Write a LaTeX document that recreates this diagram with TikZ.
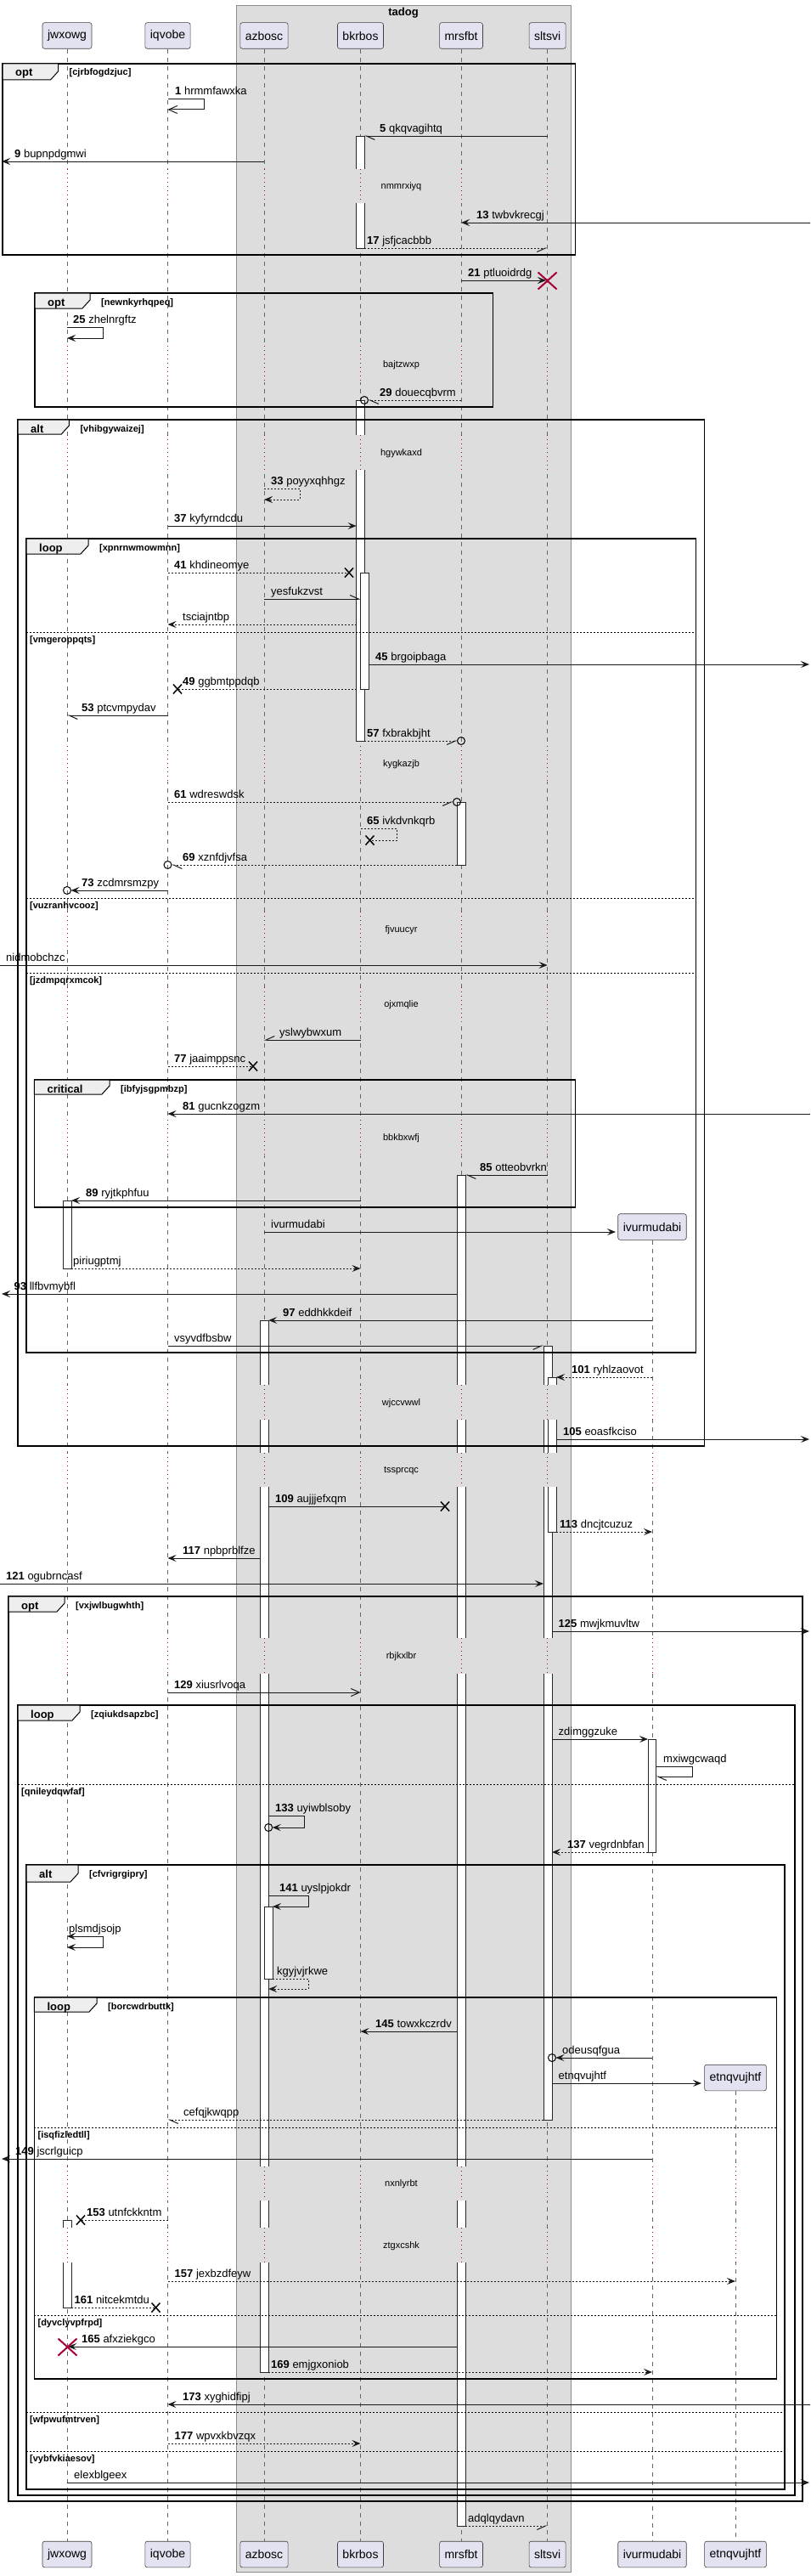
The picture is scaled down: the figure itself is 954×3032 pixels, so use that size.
\documentclass[tikz,border=0pt]{standalone}
\usepackage{fontspec}
\setmainfont{Liberation Sans}
\usetikzlibrary{arrows.meta}
\definecolor{partfill}{HTML}{E2E2F0}
\definecolor{boxgray}{HTML}{DDDDDD}
\definecolor{tabfill}{HTML}{EEEEEE}
\definecolor{killred}{HTML}{A80036}

\newcommand{\msgfont}{\fontsize{13}{15}\selectfont}
% message: [style]{from x}{to x}{y}{label x}{number}{text}
\newcommand{\msg}[7][]{%
  \draw[msgline,#1] (#2,#4) -- (#3,#4);
  \node[msglabel] (lbl-#7) at (#5,#4-5) {\if\relax\detokenize{#6}\relax\else\textbf{#6}\ \fi#7};}
% self message: [style]{x}{loop x}{y1}{y2}{end x}{label x}{number}{text}
\newcommand{\selfmsg}[9][]{%
  \draw[msgline,#1] (#2,#4) -- (#3,#4) -- (#3,#5) -- (#6,#5);
  \node[msglabel] (lbl-#9) at (#7,#4-5) {\if\relax\detokenize{#8}\relax\else\textbf{#8}\ \fi#9};}
\newcommand{\xmark}[2]{\draw[line width=1.5pt] (#1-5,#2-5.5) -- (#1+5,#2+5.5) (#1-5,#2+5.5) -- (#1+5,#2-5.5);}
\newcommand{\killmark}[2]{\draw[killred,line width=2pt] (#1-11,#2-10) -- (#1+11,#2+10) (#1-11,#2+10) -- (#1+11,#2-10);}
\newcommand{\tipcirc}[2]{\draw[line width=1pt] (#1,#2) circle (4.5);}
\newcommand{\actbar}[4]{\filldraw[actbar] (#1,#3) rectangle (#2,#4);}
% delay: {y1}{y2}{text}{lifelines}
\newcommand{\delay}[4]{%
  \foreach \lx/\lc in #4 {
    \fill[\lc] (\lx-12,#1) rectangle (\lx+12,#2);
    \draw[delayline] (\lx,#1) -- (\lx,#2);
  }
  \node[delaytext] (d-#3) at (472.5,#1/2+#2/2+1) {#3};}
% group: {x1}{x2}{y1}{y2}{tab right}{tab bottom}{kind}{guard}
\newcommand{\grp}[8]{%
  \draw[grpline] (#1,#3) rectangle (#2,#4);
  \filldraw[tabshape] (#1,#3) -- (#5,#3) -- (#5,#6-10) -- (#5-9,#6) -- (#1,#6) -- cycle;
  \node[grpkind] (k-#8) at (#1+15,#3+15) {#7};
  \node[grpguard] (g-#8) at (#5+13,#3+14) {[#8]};}
\newcommand{\grpelse}[4]{%
  \draw[elseline] (#1,#3) -- (#2,#3);
  \node[grpguard] (e-#4) at (#1+4,#3+12) {[#4]};}

\def\llA{79/white,197.5/white,311/boxgray,424.5/boxgray,543/boxgray,644.6/boxgray}
\def\llB{79/white,197.5/white,311/boxgray,424.5/boxgray,543/boxgray,644.6/boxgray,768/white}
\def\llC{79/white,197.5/white,311/boxgray,424.5/boxgray,543/boxgray,644.6/boxgray,768/white,866/white}

\begin{document}
\begin{tikzpicture}[x=1pt, y=-1pt,
    part/.style={rectangle, rounded corners=2.5pt, draw=black!75, line width=0.6pt, fill=partfill,
      minimum height=30.6pt, inner xsep=6pt, font=\fontsize{14}{16}\selectfont},
    lifeline/.style={black!60, line width=0.6pt, dash pattern=on 5pt off 5pt},
    delayline/.style={killred, line width=0.8pt, dash pattern=on 1pt off 4pt},
    delaytext/.style={font=\fontsize{11}{13}\selectfont, inner sep=0pt},
    actbar/.style={fill=white, draw=black!85, line width=0.8pt},
    msgline/.style={black!90, line width=1pt},
    dashmsg/.style={dash pattern=on 2pt off 2pt},
    msglabel/.style={anchor=base west, inner sep=0pt, font=\msgfont},
    fullhead/.style={-{Stealth[length=10pt,width=8pt,inset=4pt]}},
    openhead/.style={-{Straight Barb[length=10pt,width=9pt]}},
    halfleft/.style={-{Straight Barb[length=10pt,width=9pt,left]}},
    halfright/.style={-{Straight Barb[length=10pt,width=9pt,right]}},
    bothhead/.style={{Stealth[length=10pt,width=8pt,inset=4pt]}-{Stealth[length=10pt,width=8pt,inset=4pt]}},
    grpline/.style={draw=black, line width=1.5pt},
    tabshape/.style={fill=tabfill, draw=black, line width=1pt},
    grpkind/.style={anchor=base west, inner sep=0pt, font=\fontsize{13}{15}\selectfont\bfseries},
    grpguard/.style={anchor=base west, inner sep=0pt, font=\fontsize{11}{13}\selectfont\bfseries},
    elseline/.style={black, line width=1pt, dash pattern=on 2pt off 2pt}
]
\useasboundingbox (0,0) rectangle (954,3032);
\fill[white] (0,0) rectangle (954,3032);

% box
\filldraw[fill=boxgray, draw=black!45, line width=0.6pt] (278,6) rectangle (672,3027);
\node[font=\fontsize{13}{15}\selectfont\bfseries] (tadog) at (475,15.5) {tadog};

% participants
\foreach \n/\x in {jwxowg/79, iqvobe/197.5, azbosc/311, bkrbos/424.5, mrsfbt/543, sltsvi/644.6} {
  \node[part] (\n) at (\x,42) {\n};
  \node[part] (\n-b) at (\x,3006.5) {\n};
  \draw[lifeline] (\n) -- (\n-b);
}
\node[part] (ivurmudabi) at (768,1444) {ivurmudabi};
\node[part] (ivurmudabi-b) at (768,3006.5) {ivurmudabi};
\draw[lifeline] (ivurmudabi) -- (ivurmudabi-b);
\node[part] (etnqvujhtf) at (866,2445.5) {etnqvujhtf};
\node[part] (etnqvujhtf-b) at (866,3006.5) {etnqvujhtf};
\draw[lifeline] (etnqvujhtf) -- (etnqvujhtf-b);

% activations
\actbar{419.6}{429}{160}{292}
\actbar{419.6}{429}{471}{872}
\actbar{424.5}{434}{674}{811}
\actbar{538}{548}{944}{1018}
\actbar{538}{548}{1383}{2973}
\actbar{74}{84}{1413}{1493}
\actbar{306.4}{316.2}{1554}{2792}
\actbar{640}{650}{1584}{2495}
\actbar{645}{655}{1621}{1803}
\actbar{763}{772.5}{2047}{2180}
\actbar{311}{321}{2244}{2329}
\actbar{74}{84}{2613}{2716}

% delays
\delay{199}{239}{nmmrxiyq}{\llA}
\delay{407}{450}{bajtzwxp}{\llA}
\delay{512}{553}{hgywkaxd}{\llA}
\delay{878}{920}{kygkazjb}{\llA}
\delay{1073}{1115}{fjvuucyr}{\llA}
\delay{1162}{1202}{ojxmqlie}{\llA}
\delay{1318}{1360}{bbkbxwfj}{\llA}
\delay{1630}{1671}{wjccvwwl}{\llB}
\delay{1710}{1750}{tssprcqc}{\llB}
\delay{1928}{1970}{rbjkxlbr}{\llB}
\delay{2550}{2590}{nxnlyrbt}{\llC}
\delay{2622}{2663}{ztgxcshk}{\llC}

% groups
\grp{3}{677.7}{75}{300}{68.5}{94}{opt}{cjrbfogdzjuc}
\grp{41}{580.4}{345}{479}{106}{363}{opt}{newnkyrhqpeq}
\grp{21}{829.4}{494}{1702}{81.3}{511}{alt}{vhibgywaizej}
\grp{31}{819.6}{634}{1592}{104}{652}{loop}{xpnrnwmowmnn}
\grpelse{31}{819.6}{744}{vmgeroppqts}
\grpelse{31}{819.6}{1057}{vuzranhvcooz}
\grpelse{31}{819.6}{1145}{jzdmpqrxmcok}
\grp{40.4}{677.7}{1271}{1421}{129}{1288}{critical}{ibfyjsgpmbzp}
\grp{10}{945}{1879}{2944}{76}{1897}{opt}{vxjwlbugwhth}
\grp{21}{935.8}{2007}{2937}{94}{2025}{loop}{zqiukdsapzbc}
\grpelse{21}{935.8}{2100}{qnileydqwfaf}
\grp{31}{924}{2195}{2930}{92}{2215}{alt}{cfvrigrgipry}
\grpelse{31}{924}{2839}{wfpwufmtrven}
\grpelse{31}{924}{2885}{vybfvkiaesov}
\grp{40.4}{914.4}{2351}{2800}{114}{2368}{loop}{borcwdrbuttk}
\grpelse{40.4}{914.4}{2504}{isqfizledtll}
\grpelse{40.4}{914.4}{2725}{dyvclyvpfrpd}

% messages
\selfmsg[openhead]{197.5}{240}{117}{129}{197.5}{206}{1}{hrmmfawxka}
\msg[halfleft]{644.6}{429}{160}{447}{5}{qkqvagihtq}
\msg[fullhead]{311}{2}{190}{17}{9}{bupnpdgmwi}
\msg[fullhead]{954}{543}{262}{561}{13}{twbvkrecgj}
\msg[dashmsg,halfright]{429}{644.6}{292}{432}{17}{jsfjcacbbb}
\msg[fullhead]{543}{643}{330}{551}{21}{ptluoidrdg}
\killmark{644.6}{330.5}
\selfmsg[fullhead]{79}{121}{385}{398}{79}{86}{25}{zhelnrgftz}
\msg[dashmsg,halfleft]{543}{433.5}{471}{447}{29}{douecqbvrm}
\tipcirc{429}{471}
\selfmsg[dashmsg,fullhead]{311}{353}{575}{588}{311}{319}{33}{poyyxqhhgz}
\msg[fullhead]{197.5}{419.6}{619}{205}{37}{kyfyrndcdu}
\msg[dashmsg]{197.5}{411}{674}{205}{41}{khdineomye}
\xmark{411}{674}
\msg[halfleft]{311}{424.5}{705}{319}{}{yesfukzvst}
\msg[dashmsg,fullhead]{419.6}{197.5}{735}{215}{}{tsciajntbp}
\msg[fullhead]{434}{953}{782}{442}{45}{brgoipbaga}
\msg[dashmsg]{419.6}{209}{811}{215}{49}{ggbmtppdqb}
\xmark{209}{811}
\msg[halfleft]{197.5}{79}{842}{96}{53}{ptcvmpydav}
\msg[dashmsg,halfright]{429}{538.5}{872}{432}{57}{fxbrakbjht}
\tipcirc{543}{872}
\msg[dashmsg,halfright]{197.5}{533.5}{944}{205}{61}{wdreswdsk}
\tipcirc{538}{944}
\selfmsg[dashmsg]{424.5}{467}{975}{989}{435.5}{432}{65}{ivkdvnkqrb}
\xmark{435.5}{989}
\msg[dashmsg,halfleft]{538}{202}{1018}{215}{69}{xznfdjvfsa}
\tipcirc{197.5}{1018}
\msg[fullhead]{197.5}{83.5}{1048}{96}{73}{zcdmrsmzpy}
\tipcirc{79}{1048}
\msg[fullhead]{0}{644.6}{1136}{7}{}{nidmobchzc}
\msg[halfright]{424.5}{311}{1224}{329}{}{yslwybwxum}
\msg[dashmsg]{197.5}{298}{1255}{205}{77}{jaaimppsnc}
\xmark{298}{1255}
\msg[fullhead]{954}{197.5}{1311}{215}{81}{gucnkzogzm}
\msg[halfleft]{644.6}{548}{1383}{565}{85}{otteobvrkn}
\msg[fullhead]{424.5}{84}{1413}{101}{89}{ryjtkphfuu}
\msg[fullhead]{311}{725}{1450}{319}{}{ivurmudabi}
\msg[dashmsg,fullhead]{84}{424.5}{1493}{86}{}{piriugptmj}
\msg[fullhead]{538}{2}{1523}{16.5}{93}{llfbvmybfl}
\msg[fullhead]{768}{316.2}{1554}{333}{97}{eddhkkdeif}
\msg[halfright]{197.5}{640}{1584}{205}{}{vsyvdfbsbw}
\msg[dashmsg,fullhead]{768}{655}{1621}{673}{101}{ryhlzaovot}
\msg[fullhead]{655}{953}{1694}{663}{105}{eoasfkciso}
\msg{316.2}{524}{1773}{324}{109}{aujjjefxqm}
\xmark{524}{1773}
\msg[dashmsg,fullhead]{655}{768}{1803}{659}{113}{dncjtcuzuz}
\msg[fullhead]{306.4}{197.5}{1834}{215}{117}{npbprblfze}
\msg[fullhead]{0}{640}{1864}{7}{121}{ogubrncasf}
\msg[fullhead]{650}{953}{1920}{657.5}{125}{mwjkmuvltw}
\msg[openhead]{197.5}{424.5}{1992}{205}{129}{xiusrlvoqa}
\msg[fullhead]{650}{763}{2047}{657.5}{}{zdimggzuke}
\selfmsg[halfleft]{772.5}{815}{2079}{2091}{772.5}{781}{}{mxiwgcwaqd}
\selfmsg[fullhead]{316.2}{358}{2137}{2151}{320.7}{324}{133}{uyiwblsoby}
\tipcirc{316.2}{2151}
\msg[dashmsg,fullhead]{763}{650}{2180}{668}{137}{vegrdnbfan}
\selfmsg[fullhead]{316.2}{363}{2231}{2244}{321}{329}{141}{uyslpjokdr}
\selfmsg[bothhead]{79}{121}{2279}{2292}{79}{81}{}{plsmdjsojp}
\selfmsg[dashmsg,fullhead]{321}{363}{2329}{2341}{316.2}{326}{}{kgyjvjrkwe}
\msg[fullhead]{538}{424.5}{2391}{442}{145}{towxkczrdv}
\msg[fullhead]{768}{654.5}{2422}{662}{}{odeusqfgua}
\tipcirc{650}{2422}
\msg[fullhead]{650}{826}{2452}{657.5}{}{etnqvujhtf}
\msg[dashmsg,halfleft]{640}{197.5}{2495}{216}{}{cefqjkwqpp}
\msg[fullhead]{768}{2}{2541}{18}{149}{jscrlguicp}
\msg[dashmsg]{197.5}{95}{2613}{102}{153}{utnfckkntm}
\xmark{95}{2613}
\msg[dashmsg,fullhead]{197.5}{866}{2685}{205.5}{157}{jexbzdfeyw}
\msg[dashmsg]{84}{183.5}{2716}{87.5}{161}{nitcekmtdu}
\xmark{183.5}{2716}
\msg[fullhead]{538}{80}{2762}{96}{165}{afxziekgco}
\killmark{79.5}{2762.5}
\msg[dashmsg,fullhead]{316.2}{768}{2792}{319}{169}{emjgxoniob}
\msg[fullhead]{954}{197.5}{2830}{215}{173}{xyghidfipj}
\msg[dashmsg,fullhead]{197.5}{424.5}{2876}{205.5}{177}{wpvxkbvzqx}
\msg[fullhead]{79}{953}{2922}{87}{}{elexblgeex}
\msg[dashmsg,halfright]{548}{644.6}{2973}{551}{}{adqlqydavn}

\end{tikzpicture}
\end{document}
